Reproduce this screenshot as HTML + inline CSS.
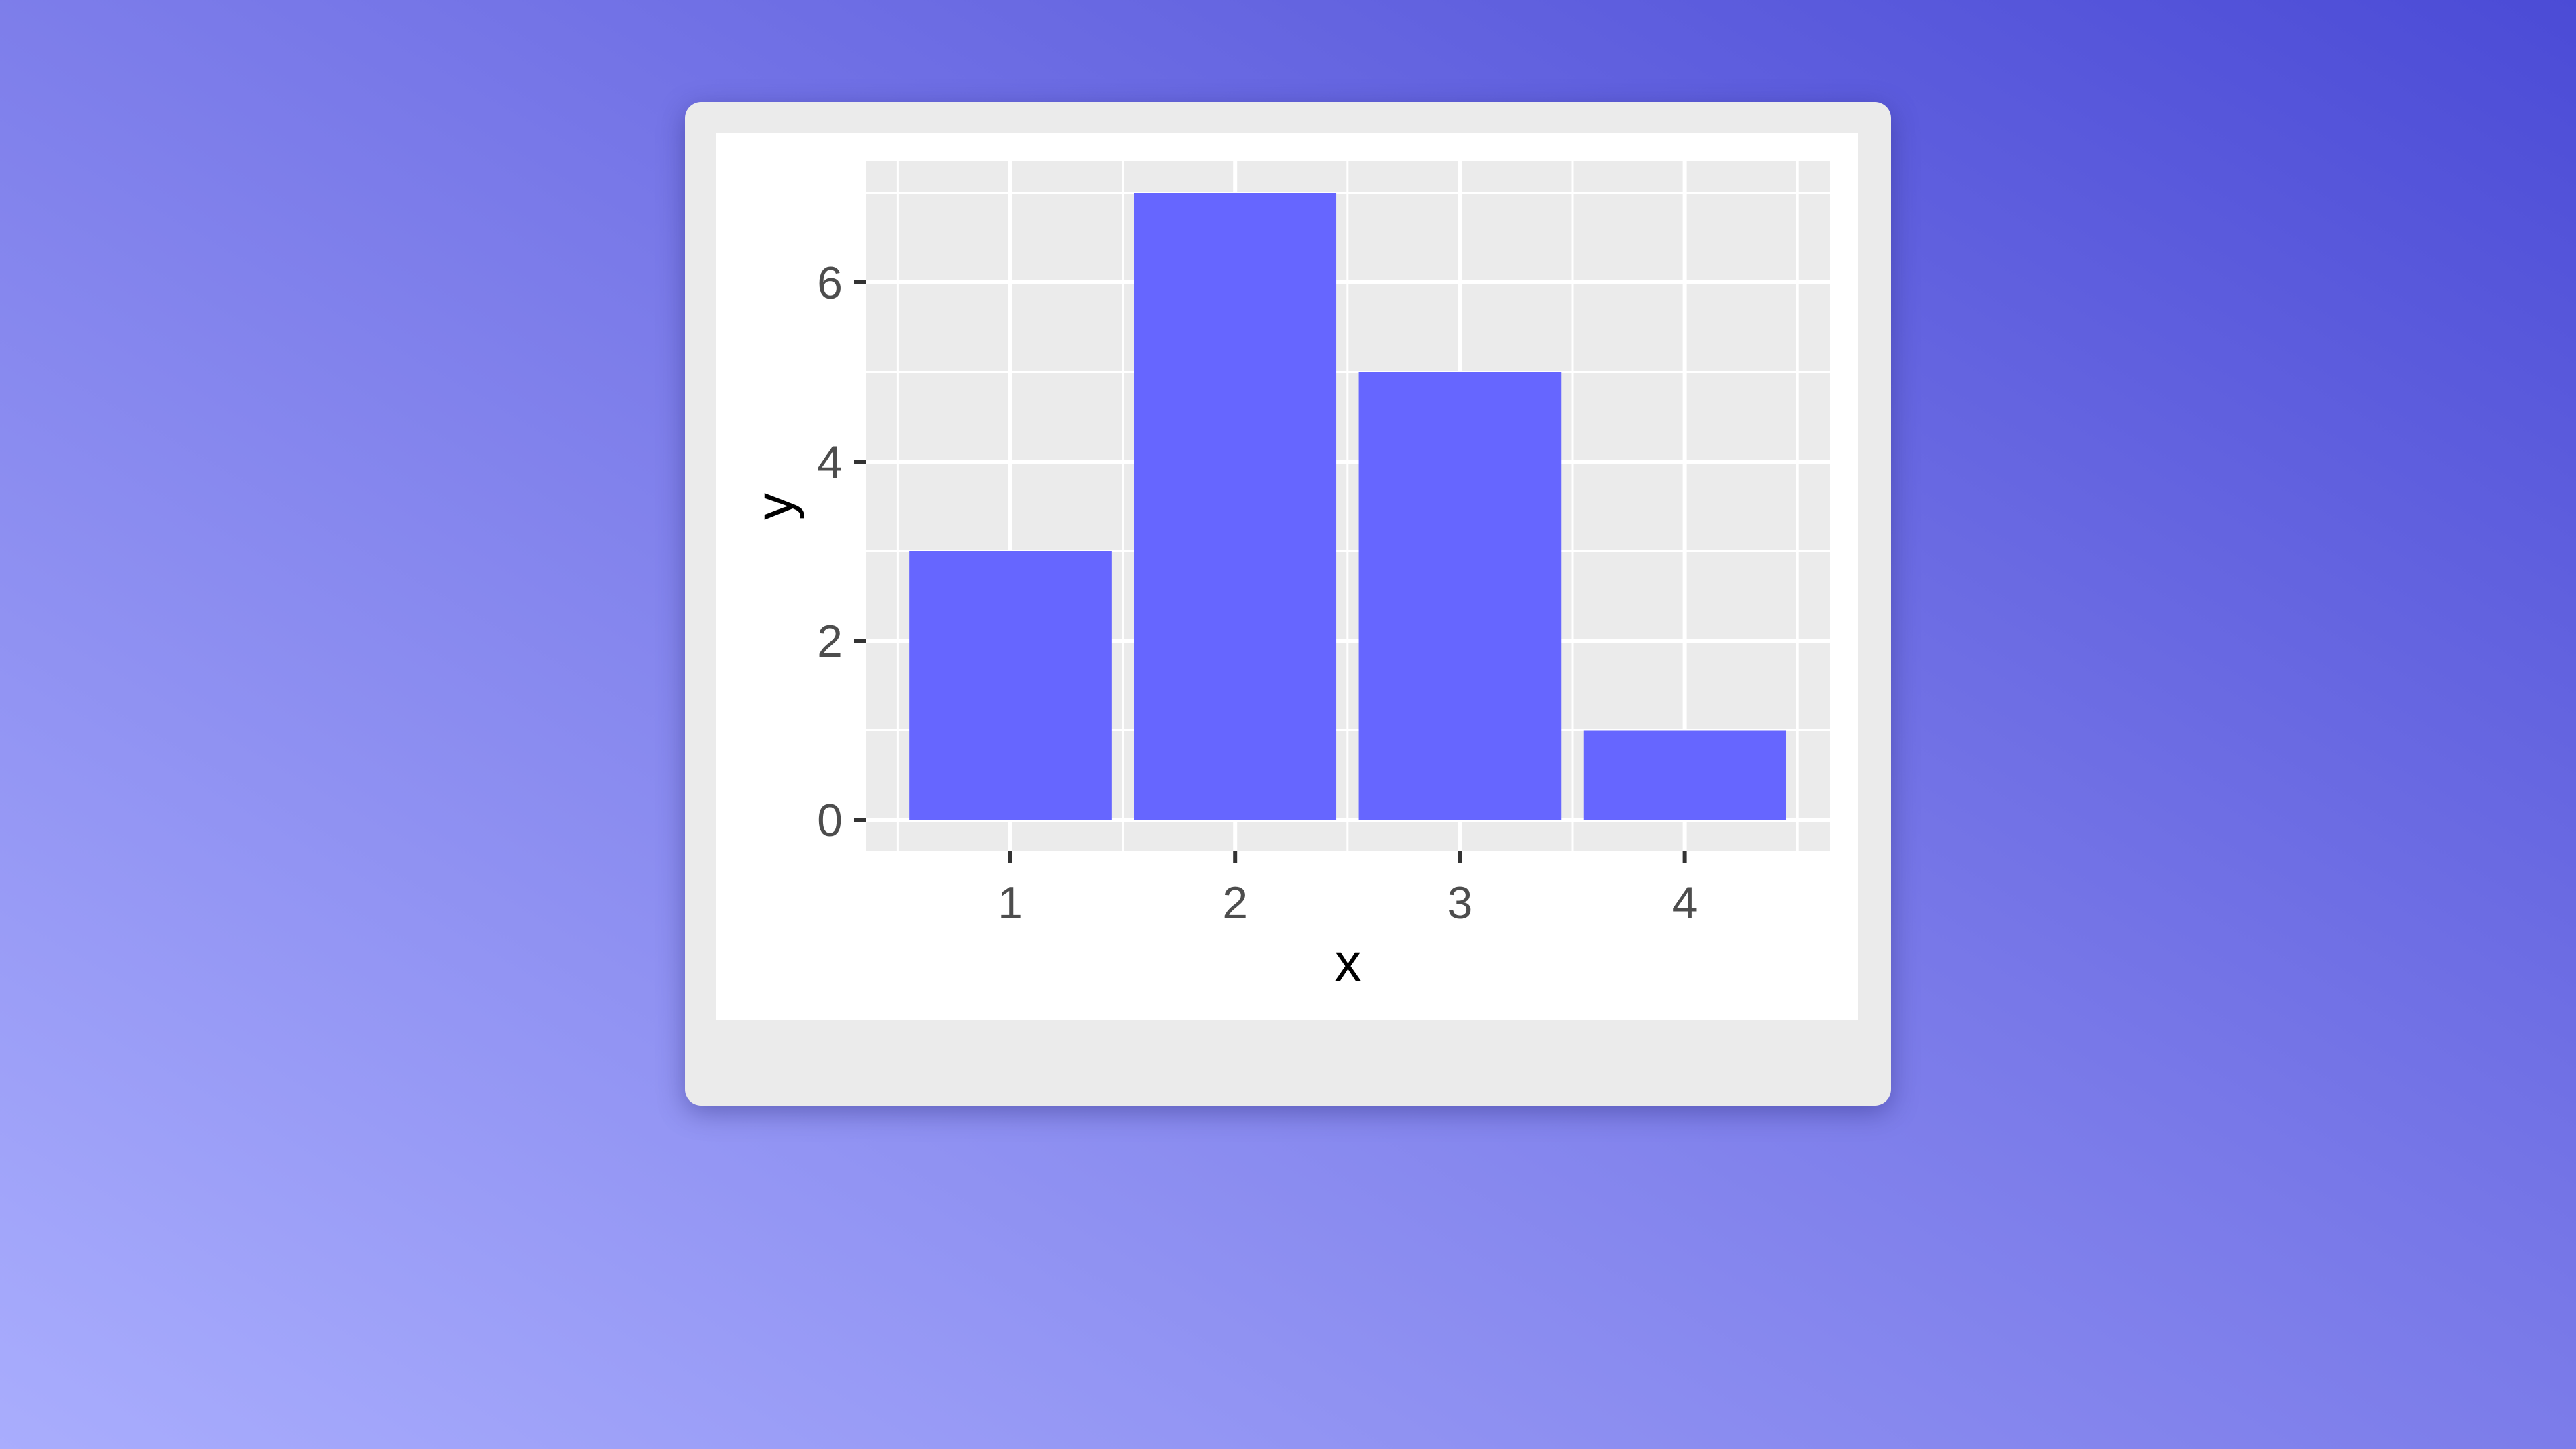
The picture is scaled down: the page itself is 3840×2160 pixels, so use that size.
<!DOCTYPE html>
<html><head><meta charset="utf-8">
<style>
html,body{margin:0;padding:0;width:3840px;height:2160px;overflow:hidden}
body{background:linear-gradient(210deg,#4b4bd6 0%,#7878e8 45%,#a9adfd 100%);font-family:"Liberation Sans",sans-serif;position:relative}
#card{position:absolute;left:1021px;top:152px;width:1798px;height:1496px;background:#ebebeb;border-radius:24px;box-shadow:0 10px 40px rgba(40,40,120,0.45)}
#inner{position:absolute;left:47px;top:46px;width:1702px;height:1323px;background:#fff}
svg{position:absolute;left:0;top:0}
</style></head><body>
<div id="card">
<div id="inner"></div>
</div>
<svg id="chart" width="3840" height="2160"></svg>
<script>
const categories=[1,2,3,4];
const values=[3,7,5,1];
const yTicks=[0,2,4,6];
const NS='http://www.w3.org/2000/svg';
const svg=document.getElementById('chart');
const P={l:1291,r:2728,t:240,b:1269};
function x(v){return 1506+(v-1)*335.2;}
function y(v){return 1222-v*133.5;}
function mk(t,a,p){const e=document.createElementNS(NS,t);for(const k in a)e.setAttribute(k,a[k]);(p||svg).appendChild(e);return e;}
const panel=mk('rect',{x:P.l,y:P.t,width:P.r-P.l,height:P.b-P.t,fill:'#ebebeb'});


for(let v=1;v<=7;v+=2){const l=mk('line',{x1:P.l,x2:P.r,y1:y(v),y2:y(v),stroke:'#fff','stroke-width':3});

}
for(let i=0;i<=categories.length;i++){const v=0.5+i;const l=mk('line',{x1:x(v),x2:x(v),y1:P.t,y2:P.b,stroke:'#fff','stroke-width':3});

}
yTicks.forEach(v=>{const l=mk('line',{x1:P.l,x2:P.r,y1:y(v),y2:y(v),stroke:'#fff','stroke-width':6});

});
categories.forEach(c=>{const l=mk('line',{x1:x(c),x2:x(c),y1:P.t,y2:P.b,stroke:'#fff','stroke-width':6});

});
const bw=0.9*335.2;
categories.forEach((c,i)=>{const r=mk('rect',{x:x(c)-bw/2,y:y(values[i]),width:bw,height:y(0)-y(values[i]),fill:'#6666ff'});

});
yTicks.forEach(v=>{mk('line',{x1:P.l-18,x2:P.l,y1:y(v),y2:y(v),stroke:'#333','stroke-width':6});
const t=mk('text',{x:P.l-35,y:y(v)+24,'text-anchor':'end','font-size':68,fill:'#4d4d4d'});t.textContent=v;

});
categories.forEach(c=>{mk('line',{x1:x(c),x2:x(c),y1:P.b,y2:P.b+18,stroke:'#333','stroke-width':6});
const t=mk('text',{x:x(c),y:P.b+100,'text-anchor':'middle','font-size':68,fill:'#4d4d4d'});t.textContent=c;

});
const xt=mk('text',{x:(P.l+P.r)/2,y:1462,'text-anchor':'middle','font-size':80,fill:'#000'});xt.textContent='x';


const yt=mk('text',{x:0,y:0,'text-anchor':'middle','font-size':80,fill:'#000',transform:'translate(1182,755) rotate(-90)'});yt.textContent='y';


</script>
</body></html>
